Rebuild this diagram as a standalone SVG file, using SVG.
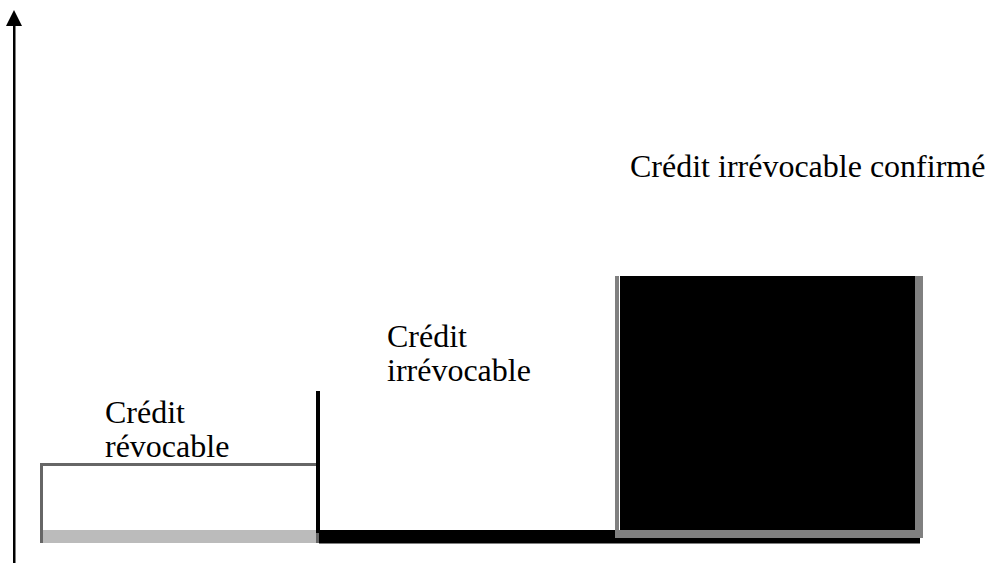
<svg xmlns="http://www.w3.org/2000/svg" width="990" height="563" viewBox="0 0 990 563">
  <style>
    text { font-family: 'Liberation Serif', 'Times New Roman', serif; font-size: 32px; fill: #000; }
  </style>
  <rect x="0" y="0" width="990" height="563" fill="#fff"/>

  <!-- vertical axis -->
  <g id="axis">
    <rect x="13" y="24" width="2.5" height="539" fill="#000"/>
    <polygon points="14,10 6,26 22,26" fill="#000"/>
  </g>

  <!-- step 1: revocable credit -->
  <g id="revocable">
    <rect x="43" y="530" width="273" height="13" fill="#bbb"/>
    <rect x="40" y="463" width="276" height="3" fill="#666"/>
    <rect x="40" y="463" width="3" height="80" fill="#666"/>
    <text x="105" y="423">Crédit</text>
    <text x="105" y="457">révocable</text>
  </g>

  <!-- step 2: irrevocable credit -->
  <g id="irrevocable">
    <rect x="316" y="391" width="4" height="142" fill="#000"/>
    <rect x="316" y="533" width="3" height="10" fill="#666"/>
    <rect x="319" y="530" width="601" height="13.5" fill="#000"/>
    <text x="387" y="347">Crédit</text>
    <text x="387" y="381">irrévocable</text>
  </g>

  <!-- step 3: confirmed irrevocable credit -->
  <g id="confirmed">
    <rect x="615" y="276" width="308" height="262" fill="#808080"/>
    <rect x="619" y="276" width="1" height="254" fill="#fff"/>
    <rect x="620" y="276" width="295" height="254" fill="#000"/>
    <text x="630" y="177">Crédit irrévocable confirmé</text>
  </g>

  <g id="connectors"></g>
</svg>
